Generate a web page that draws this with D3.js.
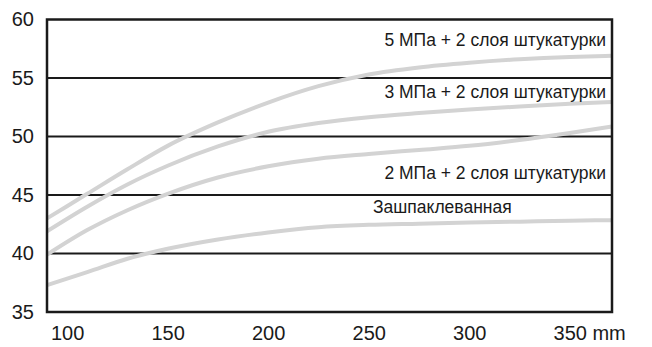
<!DOCTYPE html>
<html><head><meta charset="utf-8">
<script src="https://cdn.jsdelivr.net/npm/d3@7"></script>
<style>body{margin:0;background:#fff}svg{display:block}text{font-family:"Liberation Sans",Arial,sans-serif;fill:#1a1a1a}</style>
</head><body>
<svg id="c" width="652" height="347"></svg>
<script>
const seriesNames = ["5 МПа + 2 слоя штукатурки", "3 МПа + 2 слоя штукатурки", "2 МПа + 2 слоя штукатурки", "Зашпаклеванная"];
const xValues = [90, 110, 130, 150, 175, 200, 225, 250, 275, 300, 325, 350, 371];
const values5MPa = [43.0, 45.1, 47.2, 49.2, 51.2, 52.9, 54.3, 55.3, 55.9, 56.3, 56.6, 56.8, 56.9];
const values3MPa = [41.9, 44.0, 45.9, 47.5, 49.15, 50.4, 51.15, 51.65, 52.0, 52.3, 52.57, 52.8, 52.95];
const values2MPa = [39.9, 42.0, 43.7, 45.1, 46.5, 47.45, 48.1, 48.5, 48.85, 49.2, 49.7, 50.3, 50.85];
const valuesPutty = [37.3, 38.4, 39.55, 40.4, 41.2, 41.8, 42.25, 42.45, 42.55, 42.65, 42.72, 42.8, 42.85];
const xTicks = [100, 150, 200, 250, 300, 350];
const yTicks = [35, 40, 45, 50, 55, 60];
const xUnit = "mm";

const svg = d3.select("#c");
const L = 47, R = 612, T = 19.5, B = 312;
const x = d3.scaleLinear().domain([90, 371]).range([L, R]);
const y = d3.scaleLinear().domain([35, 60]).range([B, T]);

// gridlines
svg.append("g").selectAll("line").data(yTicks.filter(v => v > 35 && v < 60)).join("line")
  .attr("x1", L).attr("x2", R).attr("y1", d => y(d)).attr("y2", d => y(d))
  .attr("stroke", "#1a1a1a").attr("stroke-width", 2);

// curves
const all = [values5MPa, values3MPa, values2MPa, valuesPutty];
const line = d3.line().x((d, i) => x(xValues[i])).y(d => y(d)).curve(d3.curveMonotoneX);
svg.append("g").selectAll("path").data(all).join("path")
  .attr("d", line).attr("fill", "none").attr("stroke", "#d3d3d3").attr("stroke-width", 4);

// frame
svg.append("rect").attr("x", L).attr("y", T).attr("width", R - L).attr("height", B - T)
  .attr("fill", "none").attr("stroke", "#1a1a1a").attr("stroke-width", 2.5);

// y axis labels
const yAxis = d3.axisLeft(y).tickValues(yTicks).tickSize(0).tickPadding(13);
const gy = svg.append("g").attr("transform", `translate(${L},0)`).call(yAxis);
gy.select(".domain").remove();
gy.selectAll("text").attr("font-size", 20).style("font-family", '"Liberation Sans",Arial,sans-serif').attr("fill", "#1a1a1a");

// x axis labels
const xAxis = d3.axisBottom(x).tickValues(xTicks).tickSize(0).tickPadding(14);
const gx = svg.append("g").attr("transform", `translate(0,${B})`).call(xAxis);
gx.select(".domain").remove();
gx.selectAll("text").attr("font-size", 20).style("font-family", '"Liberation Sans",Arial,sans-serif').attr("fill", "#1a1a1a");
const lastTick = gx.selectAll(".tick").filter(d => d === 350).select("text");
const bw = lastTick.node().getBBox();
svg.append("text").attr("x", x(350) + bw.width / 2 + 6).attr("y", B + 14).attr("dy", "0.71em")
  .attr("font-size", 20).text(xUnit);

// series labels
const labelPos = [
  {v: 58.25, anchor: "end"},
  {v: 53.8, anchor: "end"},
  {v: 46.9, anchor: "end"},
  {v: 44.0, anchor: "start"}
];
svg.append("g").selectAll("text").data(seriesNames).join("text")
  .attr("x", (d, i) => labelPos[i].anchor === "end" ? 606 : 373)
  .attr("y", (d, i) => y(labelPos[i].v))
  .attr("dy", "0.35em")
  .attr("text-anchor", (d, i) => labelPos[i].anchor)
  .attr("font-size", 17.5)
  .text(d => d);
</script>
</body></html>
